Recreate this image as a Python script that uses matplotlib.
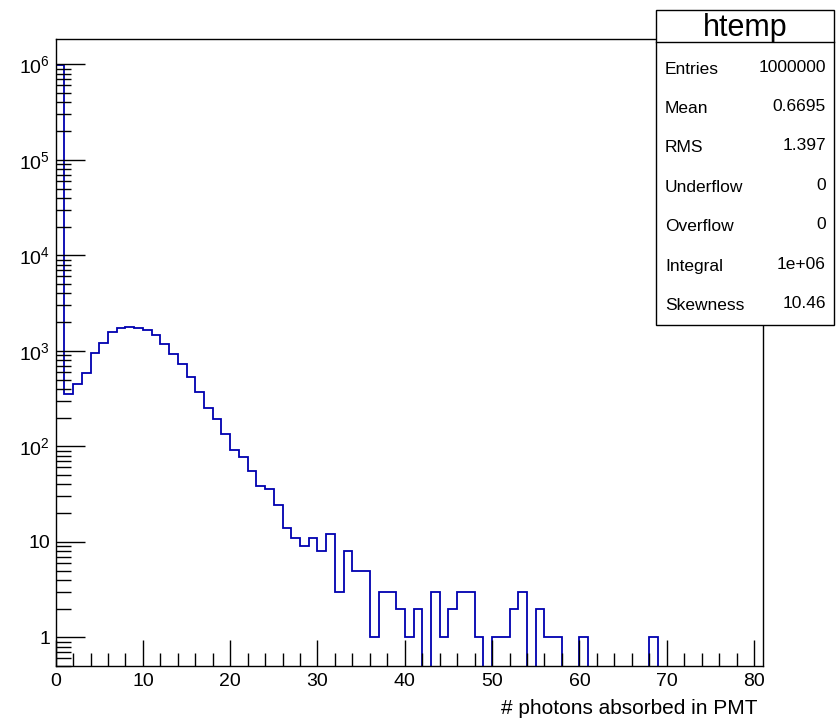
import numpy as np
import matplotlib
matplotlib.use("Agg")
import matplotlib.pyplot as plt
from matplotlib.patches import Rectangle
from matplotlib.lines import Line2D
from matplotlib.ticker import MultipleLocator, LogLocator, NullFormatter

plt.rcParams['font.family'] = ['Liberation Sans', 'DejaVu Sans']
plt.rcParams['mathtext.fontset'] = 'custom'
plt.rcParams['mathtext.rm'] = 'Liberation Sans'
plt.rcParams['mathtext.it'] = 'Liberation Sans'
plt.rcParams['mathtext.default'] = 'regular'

# ---- data (counts per 1-photon bin, bins 0..80) ----
bin_edges = np.arange(0, 82, 1)
counts = [
    981700, 350, 448, 589, 939, 1213, 1570, 1741, 1783, 1741,
    1660, 1449, 1175, 923, 731, 535, 372, 253, 194, 133,
    92, 78, 55, 38, 36, 24, 14, 11, 9, 11,
    8, 12, 3, 8, 5, 5, 1, 3, 3, 2,
    1, 2, 0, 3, 1, 2, 3, 3, 1, 0,
    1, 1, 2, 3, 0, 2, 1, 1, 0, 0,
    1, 0, 0, 0, 0, 0, 0, 0, 1, 0,
    0, 0, 0, 0, 0, 0, 0, 0, 0, 0,
    0,
]
ytick_values = [1, 10, 100, 1000, 10000, 100000, 1000000]
ytick_labels = ['1', '10', '$10^{2}$', '$10^{3}$', '$10^{4}$', '$10^{5}$', '$10^{6}$']
xlabel = '# photons absorbed in PMT'
stats_title = 'htemp'
stats_names = ['Entries', 'Mean', 'RMS', 'Underflow', 'Overflow', 'Integral', 'Skewness']
stats_values = ['1000000', '0.6695', '1.397', '0', '0', '1e+06', '10.46']

W, H = 837, 721
fig = plt.figure(figsize=(W / 100, H / 100), dpi=100)
L, R, T, B = 55.6, 762.7, 39, 666
ax = fig.add_axes([L / W, 1 - B / H, (R - L) / W, (B - T) / H])

floor = 1e-3
disp = np.where(np.array(counts) > 0, counts, floor)
ax.stairs(disp, bin_edges, baseline=floor, color='#0000b0', lw=1.3)

ax.set_yscale('log')
ax.set_xlim(0, 81)
ax.set_ylim(0.5, 1.84e6)

ax.xaxis.set_major_locator(MultipleLocator(10))
ax.xaxis.set_minor_locator(MultipleLocator(2))
ax.set_yticks(ytick_values)
ax.set_yticklabels(ytick_labels)
ax.yaxis.set_minor_locator(LogLocator(base=10, subs=np.arange(2, 10), numticks=50))
ax.yaxis.set_minor_formatter(NullFormatter())

ax.tick_params(axis='both', which='both', direction='in', top=False, right=False,
               labelsize=14, width=1, color='black')
ax.tick_params(axis='x', which='major', length=19, pad=5)
ax.tick_params(axis='x', which='minor', length=9.5)
ax.tick_params(axis='y', which='major', length=21, pad=4)
ax.tick_params(axis='y', which='minor', length=11)
for s in ax.spines.values():
    s.set_linewidth(1)

fig.text(758 / W, 1 - 708 / H, xlabel, ha='right', va='center', fontsize=15)

# stats box
bx0, bx1, by0, by1 = 656, 834, 10, 325
fig.patches.append(Rectangle((bx0 / W, 1 - by1 / H), (bx1 - bx0) / W, (by1 - by0) / H,
                             transform=fig.transFigure, facecolor='white',
                             edgecolor='black', lw=1, zorder=5))
fig.lines.append(Line2D([bx0 / W, bx1 / W], [1 - 42 / H, 1 - 42 / H],
                        transform=fig.transFigure, color='black', lw=1, zorder=6))
fig.text((bx0 + bx1) / 2 / W, 1 - 28 / H, stats_title, ha='center', va='center',
         fontsize=22, zorder=7)
row_h = 39.4
for i, (n, v) in enumerate(zip(stats_names, stats_values)):
    yc = 69 + i * row_h
    fig.text(665 / W, 1 - yc / H, n, ha='left', va='center', fontsize=12.5, zorder=7)
    fig.text(826 / W, 1 - (yc - 2) / H, v, ha='right', va='center', fontsize=12.5, zorder=7)

fig.savefig('out.png', dpi=100)
